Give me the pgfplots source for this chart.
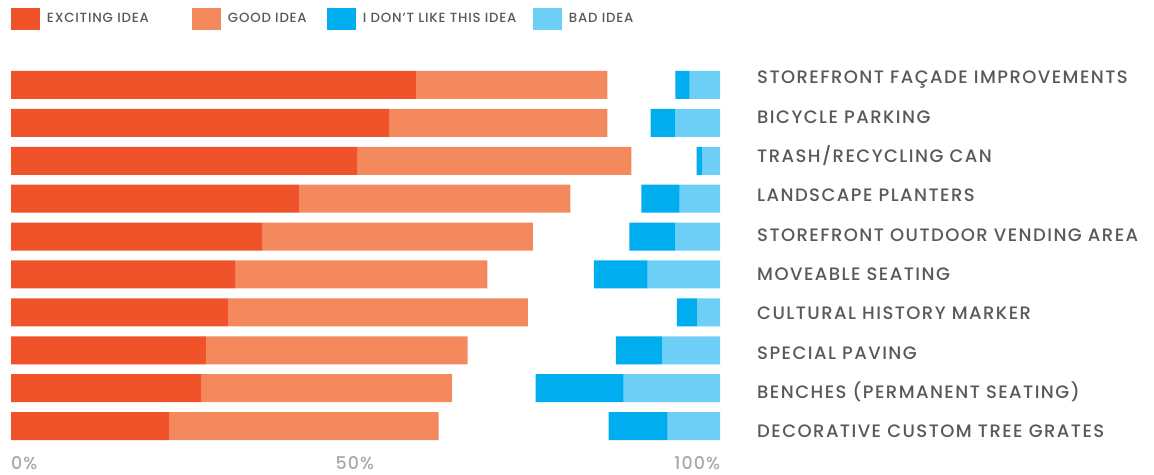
\documentclass[border=0pt]{standalone}
\usepackage{fontspec}
\setmainfont{Poppins}[UprightFont=* Medium]
\newfontfamily\lblfont{Poppins}[UprightFont=* Medium, LetterSpace=8]
\newfontfamily\legfont{Poppins}[UprightFont=* Medium, LetterSpace=6]
\usepackage{pgfplots}
\pgfplotsset{compat=1.18}
\definecolor{cExc}{HTML}{F0522A}
\definecolor{cGood}{HTML}{F5895E}
\definecolor{cDL}{HTML}{00AEEF}
\definecolor{cBad}{HTML}{6DCFF6}
\definecolor{cText}{HTML}{58595B}
\definecolor{cTick}{HTML}{A7A9AC}
\begin{document}
\begin{tikzpicture}
\useasboundingbox (0,0) rectangle (1154bp,-475bp);
\begin{axis}[
  at={(11bp,-445bp)}, anchor=south west,
  scale only axis, width=709bp, height=379bp,
  xbar stacked, bar width=28bp,
  xmin=0, xmax=100, ymin=-0.5, ymax=9.5, y dir=reverse,
  axis line style={draw=none}, major tick length=0pt,
  xtick={0,48.5,100}, xticklabels={\rlap{0\%},50\%,\llap{100\%}},
  xticklabel style={anchor=base, yshift=-24.5bp, inner sep=0pt, font=\legfont\fontsize{17.5bp}{20bp}\selectfont, text=cTick},
  ytick={-0.026,1.011,2.048,3.085,4.122,5.159,6.195,7.232,8.269,9.306},
  yticklabels={STOREFRONT FAÇADE IMPROVEMENTS, BICYCLE PARKING, TRASH/RECYCLING CAN, LANDSCAPE PLANTERS, STOREFRONT OUTDOOR VENDING AREA, MOVEABLE SEATING, CULTURAL HISTORY MARKER, SPECIAL PAVING, BENCHES (PERMANENT SEATING), DECORATIVE CUSTOM TREE GRATES},
  yticklabel pos=right,
  yticklabel style={anchor=base west, xshift=37bp, inner sep=0pt, font=\lblfont\fontsize{18bp}{20bp}\selectfont, text=cText},
  legend columns=4,
  legend style={at={(0,1)}, anchor=north west, yshift=58bp, draw=none, fill=none, inner sep=0pt, outer sep=0pt,
    font=\legfont\fontsize{13.3bp}{15bp}\selectfont, text=cText,
    /tikz/every even column/.append style={column sep=0pt},
    /tikz/every odd column/.append style={column sep=5bp},
    cells={anchor=west, inner sep=0pt}},
  legend image code/.code={\fill[#1] (0bp,-11bp) rectangle (29bp,11bp);},
]
\addplot[fill=cExc, draw=none] coordinates {(57.1,0) (53.4,1) (48.9,2) (40.6,3) (35.5,4) (31.6,5) (30.6,6) (27.5,7) (26.9,8) (22.3,9)};
\addplot[fill=cGood, draw=none] coordinates {(27.0,0) (30.7,1) (38.6,2) (38.3,3) (38.1,4) (35.6,5) (42.3,6) (36.9,7) (35.3,8) (38.0,9)};
\addplot[fill=none, draw=none, forget plot] coordinates {(9.6,0) (6.1,1) (9.2,2) (10.0,3) (13.6,4) (15.0,5) (21.0,6) (20.9,7) (11.8,8) (24.0,9)};
\addplot[fill=cDL, draw=none] coordinates {(2.0,0) (3.5,1) (0.8,2) (5.4,3) (6.5,4) (7.6,5) (2.9,6) (6.5,7) (12.4,8) (8.3,9)};
\addplot[fill=cBad, draw=none] coordinates {(4.3,0) (6.3,1) (2.5,2) (5.7,3) (6.3,4) (10.2,5) (3.2,6) (8.2,7) (13.6,8) (7.4,9)};
\legend{\makebox[143bp][l]{EXCITING IDEA}, \makebox[97bp][l]{GOOD IDEA}, \makebox[168bp][l]{I DON’T LIKE THIS IDEA}, BAD IDEA}
\end{axis}
\end{tikzpicture}
\end{document}
